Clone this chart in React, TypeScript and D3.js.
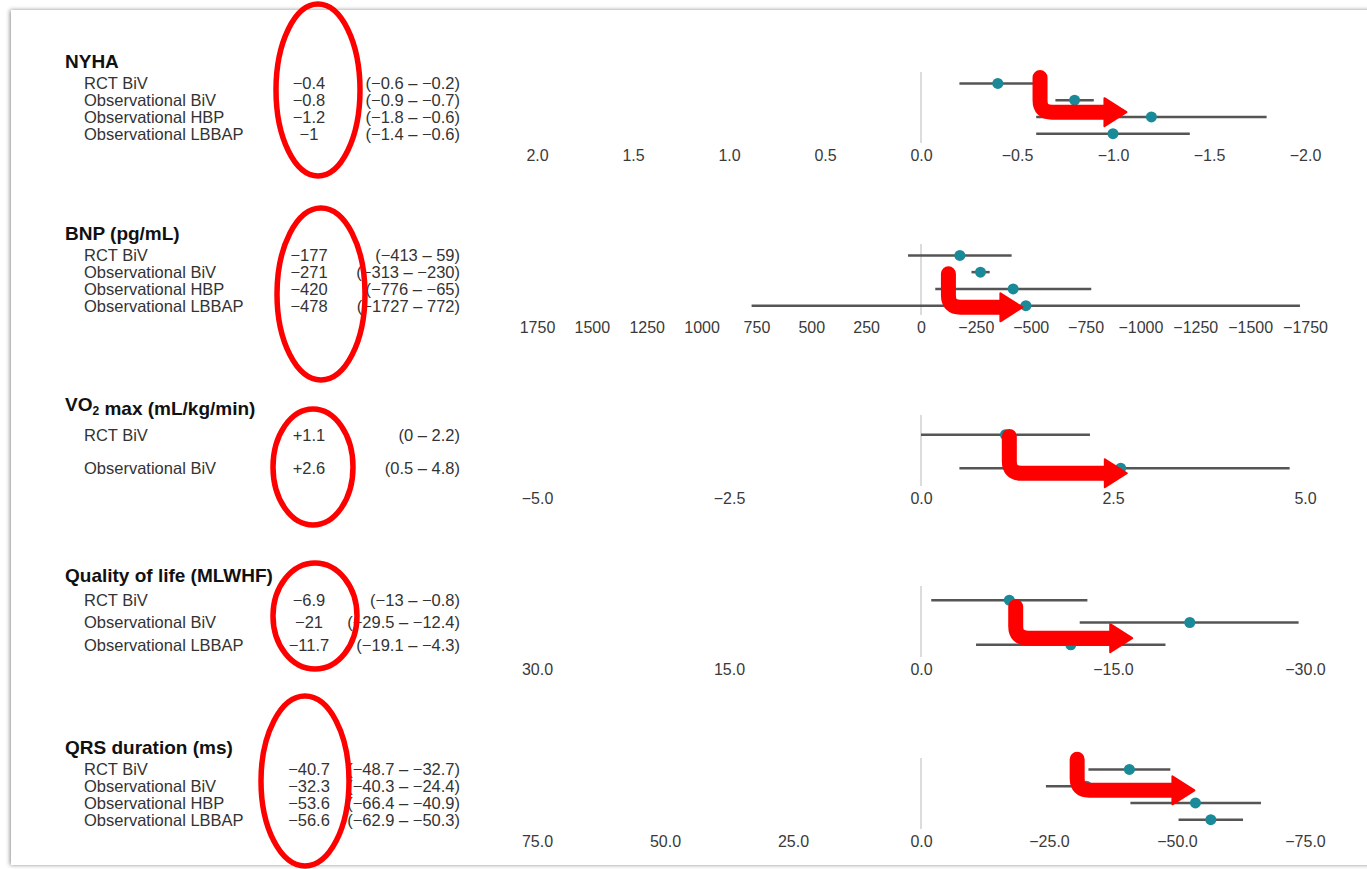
import { useEffect, useRef } from 'react';
import * as d3 from 'd3';

const W = 1367;
const H = 869;
const FONT = '"Liberation Sans", Arial, Helvetica, sans-serif';
const TEAL = '#1a8a98';
const RED = '#ff0000';

// titles of the five outcome panels
const panelTitles = ['NYHA', 'BNP (pg/mL)', 'VO2 max (mL/kg/min)', 'Quality of life (MLWHF)', 'QRS duration (ms)'];

// NYHA class
const nyhaGroups = ['RCT BiV', 'Observational BiV', 'Observational HBP', 'Observational LBBAP'];
const nyhaEst = [-0.4, -0.8, -1.2, -1];
const nyhaLow = [-0.6, -0.9, -1.8, -1.4];
const nyhaHigh = [-0.2, -0.7, -0.6, -0.6];
const nyhaDomain = [2, -2];
const nyhaTicks = [2, 1.5, 1, 0.5, 0, -0.5, -1, -1.5, -2];

// BNP
const bnpGroups = ['RCT BiV', 'Observational BiV', 'Observational HBP', 'Observational LBBAP'];
const bnpEst = [-177, -271, -420, -478];
const bnpLow = [-413, -313, -776, -1727];
const bnpHigh = [59, -230, -65, 772];
const bnpDomain = [1750, -1750];
const bnpTicks = [1750, 1500, 1250, 1000, 750, 500, 250, 0, -250, -500, -750, -1000, -1250, -1500, -1750];

// VO2 max
const vo2Groups = ['RCT BiV', 'Observational BiV'];
const vo2Est = [1.1, 2.6];
const vo2Low = [0, 0.5];
const vo2High = [2.2, 4.8];
const vo2Domain = [-5, 5];
const vo2Ticks = [-5, -2.5, 0, 2.5, 5];

// quality of life
const qolGroups = ['RCT BiV', 'Observational BiV', 'Observational LBBAP'];
const qolEst = [-6.9, -21, -11.7];
const qolLow = [-13, -29.5, -19.1];
const qolHigh = [-0.8, -12.4, -4.3];
const qolDomain = [30, -30];
const qolTicks = [30, 15, 0, -15, -30];

// QRS duration
const qrsGroups = ['RCT BiV', 'Observational BiV', 'Observational HBP', 'Observational LBBAP'];
const qrsEst = [-40.7, -32.3, -53.6, -56.6];
const qrsLow = [-48.7, -40.3, -66.4, -62.9];
const qrsHigh = [-32.7, -24.4, -40.9, -50.3];
const qrsDomain = [75, -75];
const qrsTicks = [75, 50, 25, 0, -25, -50, -75];

// red hand-drawn arrows (x in data units, y in row index)
const arrowFrom = [-0.62, -125, 1.15, -7.4, -30.5];
const arrowTo = [-1.07, -462, 2.68, -16.5, -53.4];
const arrowTopRow = [-0.35, 1.1, 0.05, 0.3, -0.6];
const arrowBendRow = [1.72, 3.1, 1.15, 1.7, 1.25];

const panels = [
    { groups: nyhaGroups, est: nyhaEst, low: nyhaLow, high: nyhaHigh, domain: nyhaDomain, ticks: nyhaTicks, fmt: '.1f' },
    { groups: bnpGroups, est: bnpEst, low: bnpLow, high: bnpHigh, domain: bnpDomain, ticks: bnpTicks, fmt: 'd' },
    { groups: vo2Groups, est: vo2Est, low: vo2Low, high: vo2High, domain: vo2Domain, ticks: vo2Ticks, fmt: '.1f' },
    { groups: qolGroups, est: qolEst, low: qolLow, high: qolHigh, domain: qolDomain, ticks: qolTicks, fmt: '.1f' },
    { groups: qrsGroups, est: qrsEst, low: qrsLow, high: qrsHigh, domain: qrsDomain, ticks: qrsTicks, fmt: '.1f' },
];

// layout
const panelBase = [68, 240, 411, 582, 754]; // title baselines
const ringDy = [22, 54, 56, 34, 27];
const ringRy = [86, 86, 58, 53, 85];
const ringRx = [42, 44, 40, 42, 44];
const ringCx = [318, 321, 313, 315, 305];

const num = (v: number, plus = false) => (v < 0 ? '\u2212' : plus && v > 0 ? '+' : '') + String(Math.abs(v));

const App = () => {
    const svgRef = useRef<SVGSVGElement | null>(null);

    useEffect(() => {
        if (!svgRef.current) return;
        const svg = d3.select(svgRef.current);
        svg.selectAll('*').remove();

        // card with a soft shadow
        const defs = svg.append('defs');
        const f = defs
            .append('filter')
            .attr('id', 'card-shadow')
            .attr('x', '-5%')
            .attr('y', '-5%')
            .attr('width', '110%')
            .attr('height', '110%');
        f.append('feDropShadow')
            .attr('dx', -1)
            .attr('dy', 0)
            .attr('stdDeviation', 2)
            .attr('flood-color', '#000')
            .attr('flood-opacity', 0.45);
        svg.append('rect')
            .attr('x', 11)
            .attr('y', 10)
            .attr('width', 1400)
            .attr('height', 855)
            .attr('fill', '#fff')
            .attr('filter', 'url(#card-shadow)');

        const xRange = [537, 1305];

        panels.forEach((p, i) => {
            const base = panelBase[i];
            const g = svg.append('g').attr('font-family', FONT);

            const x = d3.scaleLinear().domain(p.domain).range(xRange);
            const y = d3
                .scalePoint()
                .domain(p.groups)
                .range([base + 7, base + 74])
                .padding(0.5);

            // title (digits set as subscript)
            const title = g
                .append('text')
                .attr('x', 65)
                .attr('y', base)
                .attr('font-size', 19)
                .attr('font-weight', 'bold')
                .attr('fill', '#111');
            panelTitles[i].split(/(\d)/).forEach((part) => {
                if (!part) return;
                if (/^\d$/.test(part)) {
                    title.append('tspan').attr('font-size', 12).attr('dy', 4).text(part);
                    title.append('tspan').attr('dy', -4).text('');
                } else {
                    title.append('tspan').text(part);
                }
            });

            // row labels, estimates, intervals
            p.groups.forEach((grp, j) => {
                const ty = y(grp) as number;
                g.append('text')
                    .attr('x', 84)
                    .attr('y', ty)
                    .attr('dy', '0.36em')
                    .attr('font-size', 16.5)
                    .attr('fill', '#333')
                    .text(grp);
                g.append('text')
                    .attr('x', 309)
                    .attr('y', ty)
                    .attr('dy', '0.36em')
                    .attr('text-anchor', 'middle')
                    .attr('font-size', 16.5)
                    .attr('fill', '#333')
                    .text(num(p.est[j], true));
                g.append('text')
                    .attr('x', 460)
                    .attr('y', ty)
                    .attr('dy', '0.36em')
                    .attr('text-anchor', 'end')
                    .attr('font-size', 16.5)
                    .attr('fill', '#333')
                    .text(`(${num(p.low[j])} \u2013 ${num(p.high[j])})`);
            });

            // zero reference
            g.append('line')
                .attr('x1', x(0))
                .attr('x2', x(0))
                .attr('y1', base + 4)
                .attr('y2', base + 75)
                .attr('stroke', '#dcdcdc')
                .attr('stroke-width', 2);

            // intervals and points
            g.selectAll('.ci')
                .data(p.groups)
                .enter()
                .append('line')
                .attr('x1', (_, j) => x(p.low[j]))
                .attr('x2', (_, j) => x(p.high[j]))
                .attr('y1', (d) => y(d) as number)
                .attr('y2', (d) => y(d) as number)
                .attr('stroke', '#555')
                .attr('stroke-width', 2.5);
            g.selectAll('.pt')
                .data(p.groups)
                .enter()
                .append('circle')
                .attr('cx', (_, j) => x(p.est[j]))
                .attr('cy', (d) => y(d) as number)
                .attr('r', 5.5)
                .attr('fill', TEAL);

            // x axis, labels only
            const ax = g
                .append('g')
                .attr('transform', `translate(0, ${base + 82})`)
                .call(
                    d3
                        .axisBottom(x)
                        .tickValues(p.ticks)
                        .tickFormat((d) => d3.format(p.fmt)(d as number))
                        .tickSize(0)
                        .tickPadding(0)
                );
            ax.select('.domain').remove();
            ax.attr('font-family', FONT).attr('font-size', 16);
            ax.selectAll('.tick text').attr('fill', '#3a3a3a');

            // red annotations
            g.append('ellipse')
                .attr('cx', ringCx[i])
                .attr('cy', base + ringDy[i])
                .attr('rx', ringRx[i])
                .attr('ry', ringRy[i])
                .attr('fill', 'none')
                .attr('stroke', RED)
                .attr('stroke-width', 5.5);

            const y0 = y(p.groups[0]) as number;
            const rowY = (r: number) => y0 + r * y.step();
            const xs = x(arrowFrom[i]);
            const tip = x(arrowTo[i]);
            const yt = rowY(arrowTopRow[i]);
            const yb = rowY(arrowBendRow[i]);
            const headBase = tip - 22;
            const r = 12;
            g.append('path')
                .attr('d', `M${xs},${yt} L${xs},${yb - r} Q${xs},${yb} ${xs + r},${yb} L${headBase + 2},${yb}`)
                .attr('fill', 'none')
                .attr('stroke', RED)
                .attr('stroke-width', 15)
                .attr('stroke-linecap', 'round')
                .attr('stroke-linejoin', 'round');
            g.append('path')
                .attr('d', `M${headBase},${yb - 14} L${tip},${yb} L${headBase},${yb + 14} Z`)
                .attr('fill', RED)
                .attr('stroke', RED)
                .attr('stroke-width', 2)
                .attr('stroke-linejoin', 'round');
        });
    }, []);

    return (
        <div>
            <svg
                ref={svgRef}
                width={W}
                height={H}
                style={{ position: 'absolute', left: 0, top: 0, display: 'block', background: '#fff' }}
            ></svg>
        </div>
    );
};

export default App;
